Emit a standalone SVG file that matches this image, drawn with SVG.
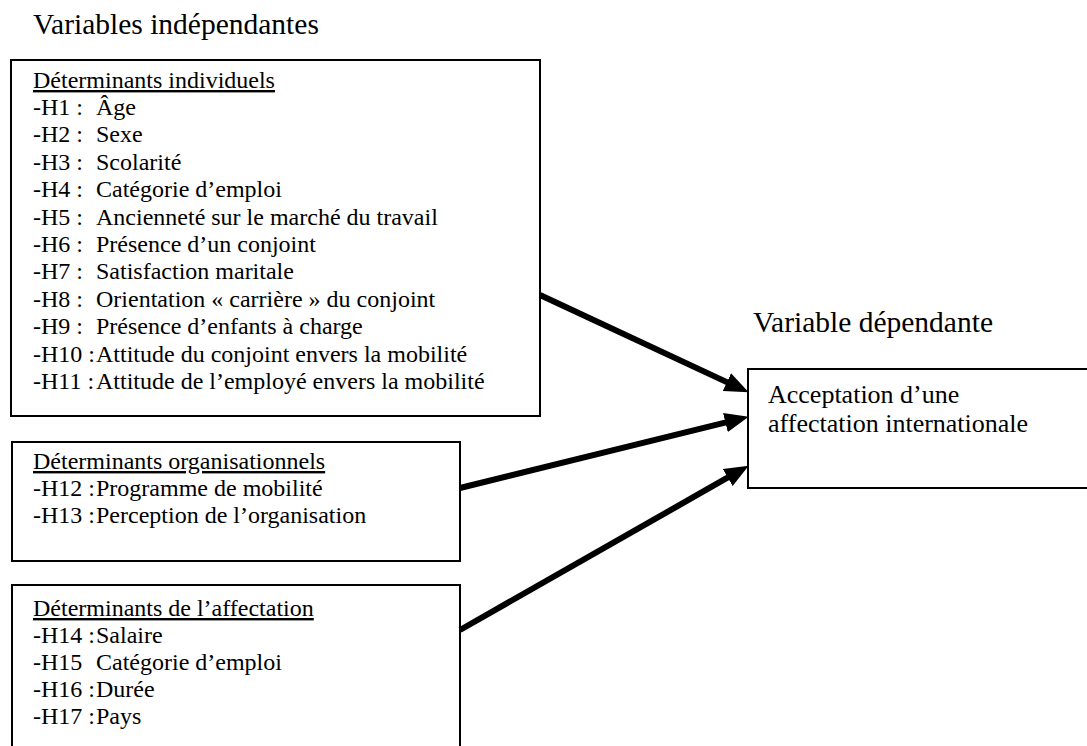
<svg xmlns="http://www.w3.org/2000/svg" width="1087" height="746" viewBox="0 0 1087 746">
<style>
text{font-family:'Liberation Serif','DejaVu Serif',serif;fill:#000}
.t{font-size:29.5px}
.b{font-size:24px}
.d{font-size:26px}
.u{text-decoration:underline}
.box{fill:#fff;stroke:#000;stroke-width:2}
.conn{stroke:#000;stroke-width:6;fill:none;marker-end:url(#ah)}
</style>
<defs>
<marker id="ah" markerUnits="userSpaceOnUse" markerWidth="24" markerHeight="20" refX="14" refY="9" orient="auto" viewBox="0 0 22 18">
<path d="M0,0 L22,9 L0,18 Z" fill="#000"/>
</marker>
</defs>
<rect width="1087" height="746" fill="#fff"/>
<g font-family="Liberation Serif, DejaVu Serif, serif">
<text class="t" x="33" y="34">Variables indépendantes</text>
<text class="t" x="753" y="332">Variable dépendante</text>

<g id="individuels">
<rect class="box" x="11" y="60" width="529" height="356"/>
<text class="b u" x="33" y="88">Déterminants individuels</text>
<text class="b" x="33" y="115">-H1 :<tspan x="96">Âge</tspan></text>
<text class="b" x="33" y="142.4">-H2 :<tspan x="96">Sexe</tspan></text>
<text class="b" x="33" y="169.8">-H3 :<tspan x="96">Scolarité</tspan></text>
<text class="b" x="33" y="197.2">-H4 :<tspan x="96">Catégorie d’emploi</tspan></text>
<text class="b" x="33" y="224.6">-H5 :<tspan x="96">Ancienneté sur le marché du travail</tspan></text>
<text class="b" x="33" y="252">-H6 :<tspan x="96">Présence d’un conjoint</tspan></text>
<text class="b" x="33" y="279.4">-H7 :<tspan x="96">Satisfaction maritale</tspan></text>
<text class="b" x="33" y="306.8">-H8 :<tspan x="96">Orientation « carrière » du conjoint</tspan></text>
<text class="b" x="33" y="334.2">-H9 :<tspan x="96">Présence d’enfants à charge</tspan></text>
<text class="b" x="33" y="361.6">-H10 :<tspan x="96">Attitude du conjoint envers la mobilité</tspan></text>
<text class="b" x="33" y="389">-H11 :<tspan x="96">Attitude de l’employé envers la mobilité</tspan></text>
</g>

<g id="organisationnels">
<rect class="box" x="12" y="442" width="448" height="119"/>
<text class="b u" x="33" y="469">Déterminants organisationnels</text>
<text class="b" x="33" y="496">-H12 :<tspan x="96">Programme de mobilité</tspan></text>
<text class="b" x="33" y="523">-H13 :<tspan x="96">Perception de l’organisation</tspan></text>
</g>

<g id="affectation">
<rect class="box" x="12" y="585" width="448" height="200"/>
<text class="b u" x="33" y="616">Déterminants de l’affectation</text>
<text class="b" x="33" y="643">-H14 :<tspan x="96">Salaire</tspan></text>
<text class="b" x="33" y="670">-H15<tspan x="96">Catégorie d’emploi</tspan></text>
<text class="b" x="33" y="697">-H16 :<tspan x="96">Durée</tspan></text>
<text class="b" x="33" y="724">-H17 :<tspan x="96">Pays</tspan></text>
</g>

<g id="dependante">
<rect class="box" x="748" y="369" width="400" height="119"/>
<text class="d" x="768" y="403">Acceptation d’une</text>
<text class="d" x="768" y="432">affectation internationale</text>
</g>
</g>

<g id="connectors">
<line class="conn" x1="540" y1="295" x2="740.75" y2="388.62"/>
<line class="conn" x1="460" y1="488" x2="740.23" y2="418.92"/>
<line class="conn" x1="460" y1="630" x2="741.05" y2="469.96"/>
</g>
</svg>
